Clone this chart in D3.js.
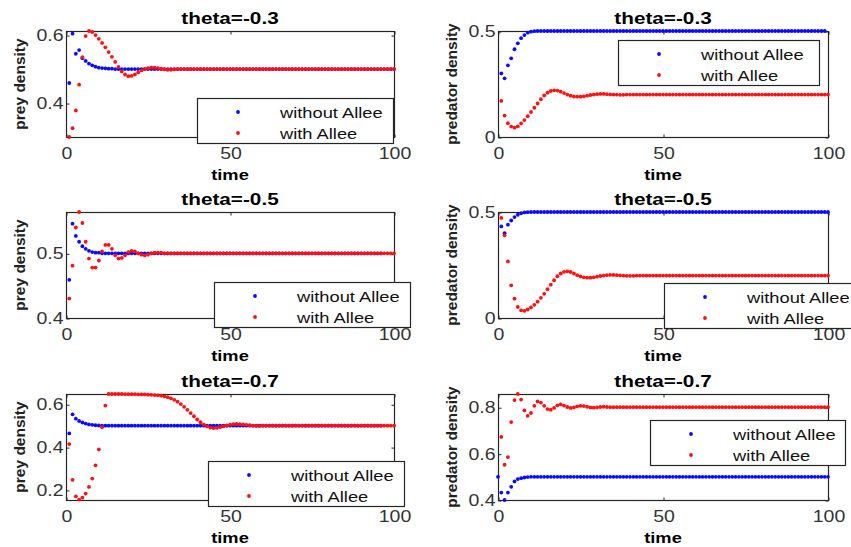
<!DOCTYPE html>
<html>
<head>
<meta charset="utf-8">
<script src="https://cdn.jsdelivr.net/npm/d3@7"></script>
<style>
  body { margin: 0; background: #fff; }
  text { font-family: "Liberation Sans", Arial, sans-serif; }
</style>
</head>
<body>
<svg id="chart" width="851" height="547"></svg>
<script>
// sample times of the simulation (t = 1..100)
const time = d3.range(1, 101);

// theta = -0.3
const preyNoAllee03 = [0.459,0.604,0.545,0.556,0.532,0.524,0.516,0.511,0.507,0.504,0.503,0.502,0.501,0.501,0.500,
  0.5,0.5,0.5,0.5,0.5,0.5,0.5,0.5,0.5,0.5,0.5,0.5,0.5,0.5,0.5,0.5,0.5,0.5,0.5,0.5,0.5,0.5,0.5,0.5,0.5,0.5,0.5,0.5,
  0.5,0.5,0.5,0.5,0.5,0.5,0.5,0.5,0.5,0.5,0.5,0.5,0.5,0.5,0.5,0.5,0.5,0.5,0.5,0.5,0.5,0.5,0.5,0.5,0.5,0.5,0.5,0.5,
  0.5,0.5,0.5,0.5,0.5,0.5,0.5,0.5,0.5,0.5,0.5,0.5,0.5,0.5,0.5,0.5,0.5,0.5,0.5,0.5,0.5,0.5,0.5,0.5,0.5,0.5,0.5,0.5,0.5];
const preyAllee03 = [0.300,0.326,0.378,0.454,0.535,0.597,0.612,0.609,0.600,0.589,0.577,0.564,0.550,0.536,0.521,0.506,
  0.493,0.484,0.479,0.480,0.484,0.490,0.496,0.500,0.503,0.504,0.504,0.503,0.501,0.499,0.498,0.498,0.499,0.500,
  0.5,0.5,0.5,0.5,0.5,0.5,0.5,0.5,0.5,0.5,0.5,0.5,0.5,0.5,0.5,0.5,0.5,0.5,0.5,0.5,0.5,0.5,0.5,0.5,0.5,0.5,0.5,0.5,
  0.5,0.5,0.5,0.5,0.5,0.5,0.5,0.5,0.5,0.5,0.5,0.5,0.5,0.5,0.5,0.5,0.5,0.5,0.5,0.5,0.5,0.5,0.5,0.5,0.5,0.5,0.5,0.5,
  0.5,0.5,0.5,0.5,0.5,0.5,0.5,0.5,0.5,0.5];
const predNoAllee03 = [0.300,0.277,0.338,0.371,0.414,0.442,0.466,0.481,0.492,0.497,0.499,
  0.5,0.5,0.5,0.5,0.5,0.5,0.5,0.5,0.5,0.5,0.5,0.5,0.5,0.5,0.5,0.5,0.5,0.5,0.5,0.5,0.5,0.5,0.5,0.5,0.5,0.5,0.5,0.5,
  0.5,0.5,0.5,0.5,0.5,0.5,0.5,0.5,0.5,0.5,0.5,0.5,0.5,0.5,0.5,0.5,0.5,0.5,0.5,0.5,0.5,0.5,0.5,0.5,0.5,0.5,0.5,0.5,
  0.5,0.5,0.5,0.5,0.5,0.5,0.5,0.5,0.5,0.5,0.5,0.5,0.5,0.5,0.5,0.5,0.5,0.5,0.5,0.5,0.5,0.5,0.5,0.5,0.5,0.5,0.5,0.5,
  0.5,0.5,0.5,0.5];
const predAllee03 = [0.170,0.101,0.065,0.049,0.044,0.050,0.064,0.080,0.098,0.118,0.138,0.158,0.178,0.196,0.209,0.217,
  0.220,0.219,0.214,0.207,0.200,0.195,0.191,0.190,0.190,0.192,0.195,0.198,0.200,0.202,0.203,0.203,0.202,0.201,
  0.200,0.200,0.199,0.199,0.200,0.200,
  0.2,0.2,0.2,0.2,0.2,0.2,0.2,0.2,0.2,0.2,0.2,0.2,0.2,0.2,0.2,0.2,0.2,0.2,0.2,0.2,0.2,0.2,0.2,0.2,0.2,0.2,0.2,0.2,
  0.2,0.2,0.2,0.2,0.2,0.2,0.2,0.2,0.2,0.2,0.2,0.2,0.2,0.2,0.2,0.2,0.2,0.2,0.2,0.2,0.2,0.2,0.2,0.2,0.2,0.2,0.2,0.2,
  0.2,0.2,0.2,0.2];

// theta = -0.5
const preyNoAllee05 = [0.459,0.546,0.527,0.518,0.511,0.507,0.504,0.502,0.501,0.501,0.500,0.500,
  0.5,0.5,0.5,0.5,0.5,0.5,0.5,0.5,0.5,0.5,0.5,0.5,0.5,0.5,0.5,0.5,0.5,0.5,0.5,0.5,0.5,0.5,0.5,0.5,0.5,0.5,0.5,0.5,
  0.5,0.5,0.5,0.5,0.5,0.5,0.5,0.5,0.5,0.5,0.5,0.5,0.5,0.5,0.5,0.5,0.5,0.5,0.5,0.5,0.5,0.5,0.5,0.5,0.5,0.5,0.5,0.5,
  0.5,0.5,0.5,0.5,0.5,0.5,0.5,0.5,0.5,0.5,0.5,0.5,0.5,0.5,0.5,0.5,0.5,0.5,0.5,0.5,0.5,0.5,0.5,0.5,0.5,0.5,0.5,0.5];
const preyAllee05 = [0.430,0.481,0.540,0.564,0.547,0.518,0.492,0.478,0.478,0.489,0.503,0.513,0.513,0.507,0.497,0.492,
  0.493,0.497,0.502,0.504,0.503,0.500,0.498,0.497,0.498,0.500,0.501,0.501,0.501,0.500,0.500,0.500,
  0.5,0.5,0.5,0.5,0.5,0.5,0.5,0.5,0.5,0.5,0.5,0.5,0.5,0.5,0.5,0.5,0.5,0.5,0.5,0.5,0.5,0.5,0.5,0.5,0.5,0.5,0.5,0.5,
  0.5,0.5,0.5,0.5,0.5,0.5,0.5,0.5,0.5,0.5,0.5,0.5,0.5,0.5,0.5,0.5,0.5,0.5,0.5,0.5,0.5,0.5,0.5,0.5,0.5,0.5,0.5,0.5,
  0.5,0.5,0.5,0.5,0.5,0.5,0.5,0.5,0.5,0.5,0.5,0.5];
const predNoAllee05 = [0.432,0.400,0.440,0.460,0.476,0.487,0.494,0.498,0.499,0.500,
  0.5,0.5,0.5,0.5,0.5,0.5,0.5,0.5,0.5,0.5,0.5,0.5,0.5,0.5,0.5,0.5,0.5,0.5,0.5,0.5,0.5,0.5,0.5,0.5,0.5,0.5,0.5,0.5,
  0.5,0.5,0.5,0.5,0.5,0.5,0.5,0.5,0.5,0.5,0.5,0.5,0.5,0.5,0.5,0.5,0.5,0.5,0.5,0.5,0.5,0.5,0.5,0.5,0.5,0.5,0.5,0.5,
  0.5,0.5,0.5,0.5,0.5,0.5,0.5,0.5,0.5,0.5,0.5,0.5,0.5,0.5,0.5,0.5,0.5,0.5,0.5,0.5,0.5,0.5,0.5,0.5,0.5,0.5,0.5,0.5,
  0.5,0.5,0.5,0.5,0.5,0.5];
const predAllee05 = [0.472,0.390,0.267,0.154,0.091,0.052,0.036,0.034,0.040,0.050,0.062,0.077,0.095,0.114,0.136,0.157,
  0.178,0.197,0.210,0.218,0.220,0.217,0.210,0.202,0.196,0.192,0.190,0.190,0.192,0.195,0.198,0.200,0.202,0.203,
  0.203,0.202,0.201,0.200,0.199,0.199,0.199,0.200,
  0.2,0.2,0.2,0.2,0.2,0.2,0.2,0.2,0.2,0.2,0.2,0.2,0.2,0.2,0.2,0.2,0.2,0.2,0.2,0.2,0.2,0.2,0.2,0.2,0.2,0.2,0.2,0.2,
  0.2,0.2,0.2,0.2,0.2,0.2,0.2,0.2,0.2,0.2,0.2,0.2,0.2,0.2,0.2,0.2,0.2,0.2,0.2,0.2,0.2,0.2,0.2,0.2,0.2,0.2,0.2,0.2,
  0.2,0.2];

// theta = -0.7
const preyNoAllee07 = [0.464,0.553,0.533,0.522,0.515,0.510,0.506,0.504,0.502,0.501,0.500,0.500,
  0.5,0.5,0.5,0.5,0.5,0.5,0.5,0.5,0.5,0.5,0.5,0.5,0.5,0.5,0.5,0.5,0.5,0.5,0.5,0.5,0.5,0.5,0.5,0.5,0.5,0.5,0.5,0.5,
  0.5,0.5,0.5,0.5,0.5,0.5,0.5,0.5,0.5,0.5,0.5,0.5,0.5,0.5,0.5,0.5,0.5,0.5,0.5,0.5,0.5,0.5,0.5,0.5,0.5,0.5,0.5,0.5,
  0.5,0.5,0.5,0.5,0.5,0.5,0.5,0.5,0.5,0.5,0.5,0.5,0.5,0.5,0.5,0.5,0.5,0.5,0.5,0.5,0.5,0.5,0.5,0.5,0.5,0.5,0.5,0.5];
const preyAllee07 = [0.414,0.247,0.170,0.155,0.164,0.183,0.214,0.253,0.315,0.389,0.493,0.594,0.648,0.648,0.648,0.648,
  0.648,0.647,0.647,0.647,0.647,0.646,0.646,0.646,0.645,0.644,0.643,0.642,0.640,0.637,0.633,0.628,0.621,0.612,
  0.601,0.588,0.574,0.559,0.544,0.529,0.516,0.505,0.497,0.491,0.489,0.490,0.493,0.497,0.501,0.505,0.507,0.508,
  0.507,0.506,0.504,0.502,0.500,0.499,0.499,0.500,
  0.5,0.5,0.5,0.5,0.5,0.5,0.5,0.5,0.5,0.5,0.5,0.5,0.5,0.5,0.5,0.5,0.5,0.5,0.5,0.5,0.5,0.5,0.5,0.5,0.5,0.5,0.5,0.5,
  0.5,0.5,0.5,0.5,0.5,0.5,0.5,0.5,0.5,0.5,0.5,0.5];
const predNoAllee07 = [0.432,0.400,0.432,0.457,0.480,0.490,0.494,0.497,0.499,
  0.5,0.5,0.5,0.5,0.5,0.5,0.5,0.5,0.5,0.5,0.5,0.5,0.5,0.5,0.5,0.5,0.5,0.5,0.5,0.5,0.5,0.5,0.5,0.5,0.5,0.5,0.5,0.5,
  0.5,0.5,0.5,0.5,0.5,0.5,0.5,0.5,0.5,0.5,0.5,0.5,0.5,0.5,0.5,0.5,0.5,0.5,0.5,0.5,0.5,0.5,0.5,0.5,0.5,0.5,0.5,0.5,
  0.5,0.5,0.5,0.5,0.5,0.5,0.5,0.5,0.5,0.5,0.5,0.5,0.5,0.5,0.5,0.5,0.5,0.5,0.5,0.5,0.5,0.5,0.5,0.5,0.5,0.5,0.5,0.5,
  0.5,0.5,0.5,0.5,0.5,0.5,0.5,0.5];
const predAllee07 = [0.672,0.552,0.585,0.736,0.831,0.857,0.833,0.786,0.763,0.775,0.806,0.825,0.820,0.806,0.792,0.789,
  0.797,0.808,0.812,0.807,0.801,0.797,0.799,0.804,0.806,0.805,0.802,0.799,0.798,0.799,0.801,0.802,0.801,0.800,
  0.800,0.800,
  0.8,0.8,0.8,0.8,0.8,0.8,0.8,0.8,0.8,0.8,0.8,0.8,0.8,0.8,0.8,0.8,0.8,0.8,0.8,0.8,0.8,0.8,0.8,0.8,0.8,0.8,0.8,0.8,
  0.8,0.8,0.8,0.8,0.8,0.8,0.8,0.8,0.8,0.8,0.8,0.8,0.8,0.8,0.8,0.8,0.8,0.8,0.8,0.8,0.8,0.8,0.8,0.8,0.8,0.8,0.8,0.8,
  0.8,0.8,0.8,0.8,0.8,0.8,0.8,0.8];

const titles = ['theta=-0.3', 'theta=-0.3', 'theta=-0.5', 'theta=-0.5', 'theta=-0.7', 'theta=-0.7'];
const yLabels = ['prey density', 'predator density'];
const yTicks = [[0.4, 0.6], [0, 0.5], [0.4, 0.5], [0, 0.5], [0.2, 0.4, 0.6], [0.4, 0.6, 0.8]];
const yLims = [[0.3, 0.612], [0, 0.5], [0.4, 0.564], [0, 0.5], [0.153, 0.648], [0.4, 0.857]];
const xTicks = [0, 50, 100];
const legendLabels = ['without Allee', 'with Allee'];
const seriesColors = ['#0a0aff', '#ff1010'];

const panels = [
  [preyNoAllee03, preyAllee03], [predNoAllee03, predAllee03],
  [preyNoAllee05, preyAllee05], [predNoAllee05, predAllee05],
  [preyNoAllee07, preyAllee07], [predNoAllee07, predAllee07]
];

// layout
const svg = d3.select('#chart');
const SX = 1.22;               // the source picture is a bit wide
const colLeft = [66, 498], colW = [328, 330];
const rowTop = [31, 212, 394], plotH = 106;
const legendBox = [[197, 98, 196], [618, 40, 201], [214, 282, 196], [664, 283, 201], [208, 461, 196], [650, 420, 195]];
const axisColor = '#262626';
const dotR = 1.9;

svg.append('rect').attr('width', 851).attr('height', 547).attr('fill', '#fff');

panels.forEach((series, i) => {
  const col = i % 2, row = Math.floor(i / 2);
  const w = colW[col];
  const g = svg.append('g').attr('transform', `translate(${colLeft[col]},${rowTop[row]})`);

  const x = d3.scaleLinear().domain([0, 100]).range([0, w]);
  const y = d3.scaleLinear().domain(yLims[i]).range([plotH, 0]);

  // box
  g.append('rect')
    .attr('x', 0.5).attr('y', 0.5).attr('width', w).attr('height', plotH)
    .attr('fill', 'none').attr('stroke', axisColor).attr('stroke-width', 1.2);

  const fmt = d3.format('~g');

  const xb = g.append('g').attr('transform', `translate(0.5,${plotH + 0.5})`)
    .call(d3.axisBottom(x).tickValues(xTicks).tickSizeInner(-3).tickSizeOuter(0).tickPadding(10).tickFormat(fmt));
  const xt = g.append('g').attr('transform', 'translate(0.5,0.5)')
    .call(d3.axisTop(x).tickValues(xTicks).tickSizeInner(-3).tickSizeOuter(0).tickFormat(''));
  const yl = g.append('g').attr('transform', 'translate(0.5,0.5)')
    .call(d3.axisLeft(y).tickValues(yTicks[i]).tickSizeInner(-3).tickSizeOuter(0).tickPadding(3).tickFormat(fmt));
  const yr = g.append('g').attr('transform', `translate(${w + 0.5},0.5)`)
    .call(d3.axisRight(y).tickValues(yTicks[i]).tickSizeInner(-3).tickSizeOuter(0).tickFormat(''));

  [xb, xt, yl, yr].forEach(a => {
    a.select('.domain').remove();
    a.selectAll('.tick line').attr('stroke', axisColor);
    a.selectAll('.tick text').attr('fill', '#333').style('font-size', '16px');
  });
  xb.selectAll('.tick text').attr('transform', `scale(${SX},1)`);
  yl.selectAll('.tick text').attr('x', -3 / SX).attr('transform', `scale(${SX},1)`);

  // points
  series.forEach((vals, s) => {
    g.append('g').selectAll('circle')
      .data(vals)
      .join('circle')
        .attr('cx', (d, k) => x(time[k]))
        .attr('cy', d => y(d))
        .attr('r', dotR)
        .attr('fill', seriesColors[s]);
  });

  // title and labels
  g.append('text')
    .attr('transform', `translate(${w / 2},-7) scale(${SX},1)`)
    .attr('text-anchor', 'middle')
    .style('font-size', '17px').style('font-weight', 'bold')
    .text(titles[i]);

  g.append('text')
    .attr('transform', `translate(${w / 2},${plotH + 43}) scale(${SX},1)`)
    .attr('text-anchor', 'middle')
    .style('font-size', '15px').style('font-weight', 'bold')
    .text('time');

  g.append('text')
    .attr('transform', `translate(-41,${plotH / 2}) rotate(-90)`)
    .attr('text-anchor', 'middle')
    .style('font-size', '15.5px').style('font-weight', 'bold')
    .attr('fill', '#222')
    .text(yLabels[col]);

  // legend
  const [lx, ly, lw] = legendBox[i];
  const lg = svg.append('g').attr('transform', `translate(${lx},${ly})`);
  lg.append('rect')
    .attr('x', 0.5).attr('y', 0.5).attr('width', lw).attr('height', 45)
    .attr('fill', '#fff').attr('stroke', axisColor).attr('stroke-width', 1.2);
  legendLabels.forEach((lab, s) => {
    lg.append('circle').attr('cx', 41).attr('cy', 14 + s * 21).attr('r', dotR).attr('fill', seriesColors[s]);
    lg.append('text')
      .attr('transform', `translate(83,${14 + s * 21 + 5.5}) scale(${SX},1)`)
      .style('font-size', '15px').attr('fill', '#111')
      .text(lab);
  });
});
</script>
</body>
</html>
